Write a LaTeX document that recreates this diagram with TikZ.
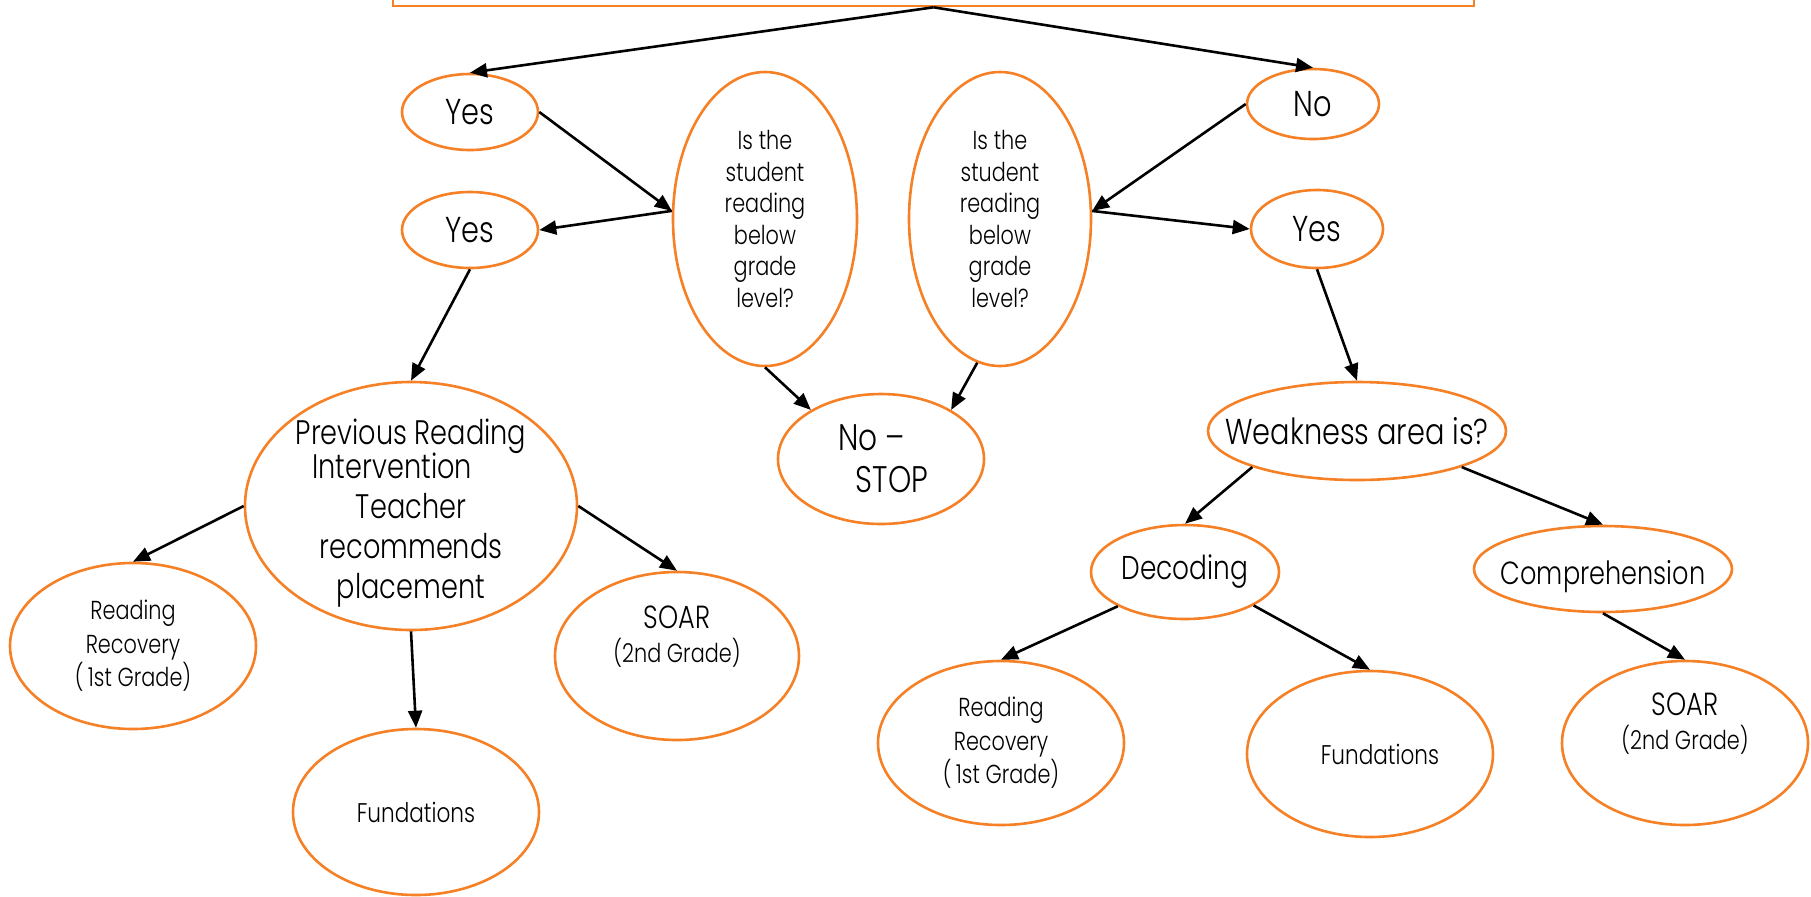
\documentclass[tikz,border=0pt]{standalone}
\usepackage{fontspec}
\IfFontExistsTF{Poppins Light}{\setmainfont{Poppins Light}[FakeStretch=0.8]}{%
  \IfFontExistsTF{Poppins ExtraLight}{\setmainfont{Poppins ExtraLight}[FakeStretch=0.8]}{\setmainfont{Poppins}[FakeStretch=0.8]}}
\usetikzlibrary{shapes.geometric,arrows.meta}
\definecolor{orng}{RGB}{245,128,37}
\newcommand\mvtext[2]{\raisebox{#1}[\height][\depth]{\begin{tabular}{@{}c@{}}#2\end{tabular}}}
\tikzset{
  bub/.style={ellipse, draw=orng, line width=1.3pt, inner sep=0pt, align=center, text=black},
  arr/.style={-{Triangle[length=8.5pt,width=7pt]}, line width=1.3pt, black},
  fbig/.style={font=\fontsize{18}{21}\selectfont},
  fq/.style={font=\fontsize{13}{15.8}\selectfont},
  fmid/.style={font=\fontsize{13}{16.7}\selectfont},
}
\begin{document}
\begin{tikzpicture}[x=0.5pt,y=-0.5pt]
\useasboundingbox (0,0) rectangle (1811,896);
% top box (cut off)
\node[draw=orng, line width=1.3pt, minimum width=540.5pt, minimum height=20pt, inner sep=0pt] (top) at (933.5,-14) {};
% first level
\node[bub, fbig, minimum width=68pt, minimum height=38pt] (yes1) at (470,112) {Yes};
\node[bub, fbig, minimum width=66pt, minimum height=35pt] (no1) at (1313,104) {No};
\node[bub, fq, minimum width=92pt, minimum height=147pt] (q1) at (765,219) {Is the\\student\\reading\\below\\grade\\level?};
\node[bub, fq, minimum width=91pt, minimum height=147pt] (q2) at (1000,219) {Is the\\student\\reading\\below\\grade\\level?};
\node[bub, fbig, minimum width=68pt, minimum height=38pt] (yes2) at (470,230) {Yes};
\node[bub, fbig, minimum width=66pt, minimum height=39pt] (yes3) at (1317,229) {Yes};
% middle
\node[bub, font=\fontsize{17}{20}\selectfont, inner ysep=-20pt, minimum width=166pt, minimum height=124pt] (prev) at (411,506)
  {\mvtext{-3.5pt}{Previous Reading\\[-3pt]Intervention\hspace*{1.1em}\\Teacher\\recommends\\placement}};
\node[bub, font=\fontsize{18.5}{21}\selectfont, minimum width=103pt, minimum height=65pt] (nostop) at (881,459)
  {No –\hspace*{0.5em}\\\hspace*{0.6em}STOP};
\node[bub, fbig, inner xsep=-30pt, minimum width=149pt, minimum height=49pt] (weak) at (1357,431) {Weakness area is?};
% bottom left
\node[bub, fmid, minimum width=123pt, minimum height=83pt] (rr1) at (133,646)
  {Reading\\Recovery\\{\fontsize{13}{16.7}\selectfont (\,1st Grade)}};
\node[bub, font=\fontsize{16}{16}\selectfont, minimum width=122pt, minimum height=84pt] (soar1) at (677,656)
  {\mvtext{8.5pt}{SOAR\\{\fontsize{13}{16}\selectfont (2nd Grade)}}};
\node[bub, font=\fontsize{13.5}{17}\selectfont, minimum width=123pt, minimum height=83pt] (fund1) at (416,812) {Fundations};
% bottom right
\node[bub, font=\fontsize{16.5}{20}\selectfont, minimum width=94pt, minimum height=47pt] (dec) at (1185,572) {Decoding};
\node[bub, font=\fontsize{16}{20}\selectfont, inner xsep=-30pt, minimum width=129pt, minimum height=43pt] (comp) at (1603,569) {\mvtext{-3.5pt}{Comprehension}};
\node[bub, fmid, minimum width=123pt, minimum height=82pt] (rr2) at (1001,743)
  {Reading\\Recovery\\{\fontsize{13}{16.7}\selectfont (\,1st Grade)}};
\node[bub, font=\fontsize{13.5}{17}\selectfont, minimum width=123pt, minimum height=83pt] (fund2) at (1370,754) {\hspace*{10pt}Fundations};
\node[bub, font=\fontsize{16}{16}\selectfont, minimum width=123pt, minimum height=82pt] (soar2) at (1685,743)
  {\mvtext{8.5pt}{SOAR\\{\fontsize{13}{16}\selectfont (2nd Grade)}}};
% connectors
\draw[arr] (top.south) -- (yes1.north);
\draw[arr] (top.south) -- (no1.north);
\draw[arr] (yes1.east) -- (q1.175);
\draw[arr] (q1.175) -- (yes2.east);
\draw[arr] (no1.west) -- (q2.5);
\draw[arr] (q2.5) -- (yes3.west);
\draw[arr] (q1.south) -- (nostop.145);
\draw[arr] (q2.261) -- (nostop.35);
\draw[arr] (yes2.south) -- (prev.north);
\draw[arr] (yes3.south) -- (weak.north);
\draw[arr] (prev.west) -- (rr1.north);
\draw[arr] (prev.east) -- (soar1.north);
\draw[arr] (prev.south) -- (fund1.north);
\draw[arr] (weak.199) -- (dec.north);
\draw[arr] (weak.341) -- (comp.north);
\draw[arr] (dec.207) -- (rr2.north);
\draw[arr] (dec.334) -- (fund2.north);
\draw[arr] (comp.south) -- (soar2.north);
\end{tikzpicture}
\end{document}
